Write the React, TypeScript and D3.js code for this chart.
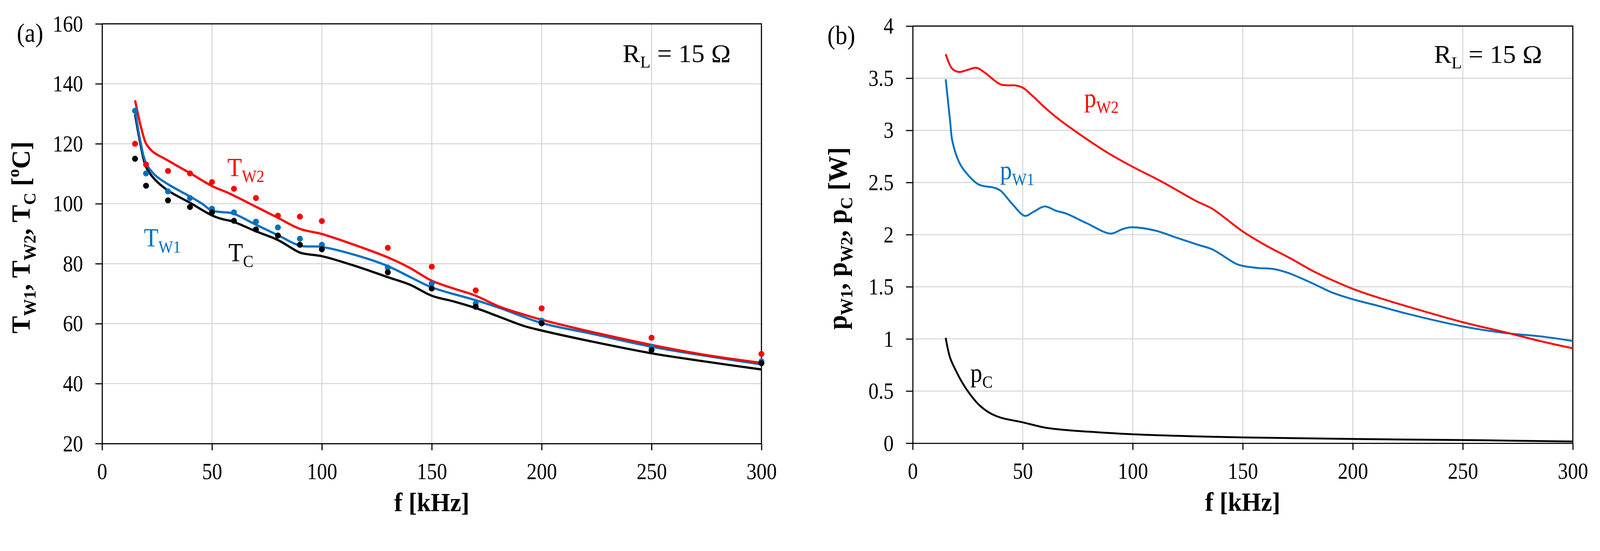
import { useEffect, useRef } from 'react';
import * as d3 from 'd3';

// ---- panel (a): temperatures ----
const freqMeas = [15, 20, 30, 40, 50, 60, 70, 80, 90, 100, 130, 150, 170, 200, 250, 300];
const tw2Meas = [120, 113.1, 110.9, 110.1, 107.2, 105, 101.9, 96, 95.7, 94.2, 85.3, 79, 71.1, 65.1, 55.3, 49.9];
const tw1Meas = [131, 110.1, 104.1, 101.9, 98.3, 97.1, 94, 92.1, 88.3, 86.3, 78.7, 73.4, 66.7, 61, 52.3, 47.4];
const tcMeas = [115, 106, 101.1, 98.9, 97.1, 94.3, 91.4, 89.4, 86.3, 84.8, 77.1, 71.7, 65.6, 60.1, 51.2, 46.8];

const tw2SimF = [15, 18, 20, 23, 29, 40, 50, 58, 70, 80, 90, 100, 112, 130, 140, 150, 160, 170, 181, 192, 200, 223, 250, 275, 300];
const tw2SimV = [134.5, 124.7, 120.1, 117.4, 114.8, 110.2, 105.9, 103.4, 99.0, 95.3, 91.6, 89.9, 87.0, 82.1, 78.6, 74.3, 71.7, 69.3, 65.6, 63.0, 61.3, 57.2, 52.9, 49.5, 46.9];
const tw1SimF = [15, 17.5, 20, 24, 30, 40, 45.7, 49.6, 54.5, 59.3, 70, 80, 90, 100, 117, 130, 140, 150, 170, 181, 200, 223, 250, 300];
const tw1SimV = [131.5, 120.5, 113.5, 109.6, 106.5, 102.4, 99.9, 97.8, 97.2, 96.8, 93.0, 89.5, 86.0, 85.6, 82.5, 79.2, 75.6, 72.1, 67.8, 65.2, 60.2, 56.6, 52.3, 46.4];
const tcSimF = [15, 17.5, 20, 24, 30, 40, 50, 54.5, 59.3, 70, 80, 90, 94, 100, 117, 130, 140, 150, 160, 170, 181, 192, 200, 223, 250, 275, 300];
const tcSimV = [129.9, 119.7, 112.3, 108.1, 104.4, 100.3, 96.1, 94.9, 94.1, 90.8, 87.9, 83.7, 83.1, 82.5, 78.8, 75.5, 73.0, 69.3, 67.4, 65.2, 62.2, 59.2, 57.7, 54.0, 50.1, 47.3, 44.7];

// ---- panel (b): losses ----
const pw2F = [15, 18, 21, 25, 29, 33, 40, 47, 50, 55, 60, 65, 74, 89, 100, 113, 129, 136, 150, 161, 171, 182, 190, 200, 211, 225, 250, 268, 287, 300];
const pw2V = [3.73, 3.59, 3.56, 3.58, 3.6, 3.55, 3.44, 3.43, 3.41, 3.32, 3.22, 3.13, 2.99, 2.78, 2.65, 2.51, 2.32, 2.25, 2.03, 1.89, 1.78, 1.65, 1.57, 1.48, 1.4, 1.31, 1.16, 1.07, 0.97, 0.91];
const pw1F = [15, 17, 18, 21, 24, 30, 37, 40, 45, 51, 55, 60, 65, 70, 79, 90, 95, 99, 110, 120, 130, 136, 147, 150, 157, 164, 171, 182, 190, 200, 211, 225, 250, 268, 287, 300];
const pw1V = [3.49, 3.09, 2.9, 2.7, 2.6, 2.48, 2.45, 2.42, 2.3, 2.18, 2.22, 2.27, 2.23, 2.2, 2.11, 2.01, 2.05, 2.07, 2.04, 1.97, 1.9, 1.86, 1.72, 1.7, 1.68, 1.67, 1.63, 1.53, 1.45, 1.38, 1.32, 1.24, 1.12, 1.06, 1.02, 0.98];
const pcF = [15, 17, 20, 22, 25, 30, 35, 40, 50, 60, 70, 80, 100, 150, 200, 250, 300];
const pcV = [1.01, 0.82, 0.68, 0.6, 0.5, 0.37, 0.29, 0.245, 0.2, 0.15, 0.125, 0.11, 0.085, 0.055, 0.04, 0.03, 0.016];

const xTicks = [0, 50, 100, 150, 200, 250, 300];
const tTicks = [20, 40, 60, 80, 100, 120, 140, 160];
const pTicks = [0, 0.5, 1, 1.5, 2, 2.5, 3, 3.5, 4];

const W = 4295;
const H = 1411;
const RED = '#ff0000';
const BLUE = '#0070c0';
const BLACK = '#000000';
const GRID = '#d9d9d9';
const SERIF = '"Liberation Serif", "Times New Roman", serif';
const SX = 0.89;

type Part = [string, 'n' | 'sub' | 'sup'];
type Sel = d3.Selection<any, unknown, null, undefined>;

function richText(g: Sel, parts: Part[], size: number, color: string, bold = false) {
  const t = g.append('text').attr('fill', color).attr('font-family', SERIF).attr('font-size', size);
  if (bold) t.attr('font-weight', 'bold');
  let shift = 0;
  parts.forEach(([s, k]) => {
    const target = k === 'sub' ? size * 0.22 : k === 'sup' ? -size * 0.4 : 0;
    t.append('tspan')
      .attr('font-size', k === 'n' ? size : size * 0.65)
      .attr('dy', target - shift)
      .text(s);
    shift = target;
  });
  return t;
}

interface Box { left: number; right: number; top: number; bottom: number }

function drawPanel(
  svg: Sel,
  box: Box,
  yDomain: [number, number],
  yTicks: number[],
  lines: { f: number[]; v: number[]; color: string }[],
  dots: { v: number[]; color: string }[],
  yTitle: Part[],
  yTitleOffset: number,
  yTitleLen: number,
  labels: { parts: Part[]; f: number; v: number; color: string }[],
  rl: { f: number; v: number },
  panelTag: string,
) {
  const x = d3.scaleLinear().domain([0, 300]).range([box.left, box.right]);
  const y = d3.scaleLinear().domain(yDomain).range([box.bottom, box.top]);
  const g = svg.append('g');

  // gridlines
  g.append('g')
    .selectAll('line')
    .data(xTicks.slice(1, -1))
    .join('line')
    .attr('x1', (d) => x(d))
    .attr('x2', (d) => x(d))
    .attr('y1', box.top)
    .attr('y2', box.bottom)
    .attr('stroke', GRID)
    .attr('stroke-width', 3);
  g.append('g')
    .selectAll('line')
    .data(yTicks.slice(1, -1))
    .join('line')
    .attr('x1', box.left)
    .attr('x2', box.right)
    .attr('y1', (d) => y(d))
    .attr('y2', (d) => y(d))
    .attr('stroke', GRID)
    .attr('stroke-width', 3);

  // frame top + right
  g.append('path')
    .attr('d', `M${box.left},${box.top}H${box.right}V${box.bottom}`)
    .attr('fill', 'none')
    .attr('stroke', BLACK)
    .attr('stroke-width', 3);

  // axes
  const xAxis = g
    .append('g')
    .attr('transform', `translate(0,${box.bottom})`)
    .call(d3.axisBottom(x).tickValues(xTicks).tickSize(18).tickSizeOuter(0).tickFormat((d) => String(d)));
  const yAxis = g
    .append('g')
    .attr('transform', `translate(${box.left},0)`)
    .call(d3.axisLeft(y).tickValues(yTicks).tickSize(18).tickSizeOuter(0).tickFormat((d) => String(d)));
  [xAxis, yAxis].forEach((a) => {
    a.attr('font-family', SERIF).attr('font-size', 61);
    a.select('.domain').attr('stroke', BLACK).attr('stroke-width', 3);
    a.selectAll('.tick line').attr('stroke', BLACK).attr('stroke-width', 3);
    a.selectAll('.tick text').attr('fill', BLACK);
  });
  xAxis.selectAll('.tick text').attr('y', 96).attr('dy', 0).attr('transform', `scale(${SX},1)`);
  yAxis
    .selectAll('.tick text')
    .attr('x', -51 / SX)
    .attr('dy', '0.33em')
    .attr('transform', `scale(${SX},1)`);

  // curves
  const line = d3
    .line<[number, number]>()
    .x((d) => x(d[0]))
    .y((d) => y(d[1]))
    .curve(d3.curveCatmullRom.alpha(0.5));
  lines.forEach((s) => {
    g.append('path')
      .attr('d', line(s.f.map((f, i) => [f, s.v[i]] as [number, number])))
      .attr('fill', 'none')
      .attr('stroke', s.color)
      .attr('stroke-width', dots.length ? 6 : 5)
      .attr('stroke-linejoin', 'round');
  });

  // measured points
  dots.forEach((s) => {
    g.append('g')
      .selectAll('circle')
      .data(s.v)
      .join('circle')
      .attr('cx', (_, i) => x(freqMeas[i]))
      .attr('cy', (d) => y(d))
      .attr('r', 8)
      .attr('fill', s.color);
  });

  // series labels
  labels.forEach((l) => {
    richText(g, l.parts, 72, l.color).attr('transform', `translate(${x(l.f)},${y(l.v)}) scale(${SX},1)`);
  });

  // R_L annotation
  richText(g, [['R', 'n'], ['L', 'sub'], [' = 15 Ω', 'n']], 68, BLACK)
    .attr('text-anchor', 'end')
    .attr('textLength', 290)
    .attr('lengthAdjust', 'spacingAndGlyphs')
    .attr('transform', `translate(${x(rl.f)},${y(rl.v)})`);

  // axis titles
  richText(g, [['f [kHz]', 'n']], 72, BLACK, true)
    .attr('text-anchor', 'middle')
    .attr('textLength', 202)
    .attr('lengthAdjust', 'spacingAndGlyphs')
    .attr('transform', `translate(${(box.left + box.right) / 2},${box.bottom + 182})`);
  richText(g, yTitle, 72, BLACK, true)
    .attr('text-anchor', 'middle')
    .attr('textLength', yTitleLen)
    .attr('lengthAdjust', 'spacingAndGlyphs')
    .attr('transform', `translate(${box.left + yTitleOffset},${(box.top + box.bottom) / 2 + 10}) rotate(-90)`);

  // panel tag
  richText(g, [[panelTag, 'n']], 72, BLACK).attr(
    'transform',
    `translate(${box.left - 229},${box.top + 48}) scale(${SX},1)`,
  );
}

export default function App() {
  const svgRef = useRef<SVGSVGElement>(null);

  useEffect(() => {
    if (!svgRef.current) return;
    const svg = d3.select(svgRef.current);
    svg.selectAll('*').remove();
    svg.append('rect').attr('width', W).attr('height', H).attr('fill', '#fff');

    drawPanel(
      svg,
      { left: 274, right: 2044, top: 64, bottom: 1191 },
      [20, 160],
      tTicks,
      [
        { f: tcSimF, v: tcSimV, color: BLACK },
        { f: tw1SimF, v: tw1SimV, color: BLUE },
        { f: tw2SimF, v: tw2SimV, color: RED },
      ],
      [
        { v: tw2Meas, color: RED },
        { v: tw1Meas, color: BLUE },
        { v: tcMeas, color: BLACK },
      ],
      [
        ['T', 'n'], ['W1', 'sub'], [', T', 'n'], ['W2', 'sub'], [', T', 'n'], ['C', 'sub'],
        [' [', 'n'], ['o', 'sup'], ['C]', 'n'],
      ],
      -194,
      516,
      [
        { parts: [['T', 'n'], ['W2', 'sub']], f: 57, v: 109.2, color: RED },
        { parts: [['T', 'n'], ['W1', 'sub']], f: 19, v: 85.7, color: BLUE },
        { parts: [['T', 'n'], ['C', 'sub']], f: 57.5, v: 80.8, color: BLACK },
      ],
      { f: 286, v: 147.3 },
      '(a)',
    );

    drawPanel(
      svg,
      { left: 2450, right: 4222, top: 70, bottom: 1190 },
      [0, 4],
      pTicks,
      [
        { f: pcF, v: pcV, color: BLACK },
        { f: pw1F, v: pw1V, color: BLUE },
        { f: pw2F, v: pw2V, color: RED },
      ],
      [],
      [
        ['p', 'n'], ['W1', 'sub'], [', p', 'n'], ['W2', 'sub'], [', p', 'n'], ['C', 'sub'], [' [W]', 'n'],
      ],
      -178,
      490,
      [
        { parts: [['p', 'n'], ['W2', 'sub']], f: 78, v: 3.223, color: RED },
        { parts: [['p', 'n'], ['W1', 'sub']], f: 39.7, v: 2.53, color: BLUE },
        { parts: [['p', 'n'], ['C', 'sub']], f: 26.2, v: 0.587, color: BLACK },
      ],
      { f: 286, v: 3.648 },
      '(b)',
    );
  }, []);

  // scale the fixed 4295x1411 drawing to the real viewport, anchored top-left
  return (
    <svg
      ref={svgRef}
      viewBox={`0 0 ${W} ${H}`}
      preserveAspectRatio="xMinYMin meet"
      style={{ position: 'fixed', left: 0, top: 0, width: '100vw', height: '100vh', display: 'block' }}
    />
  );
}
